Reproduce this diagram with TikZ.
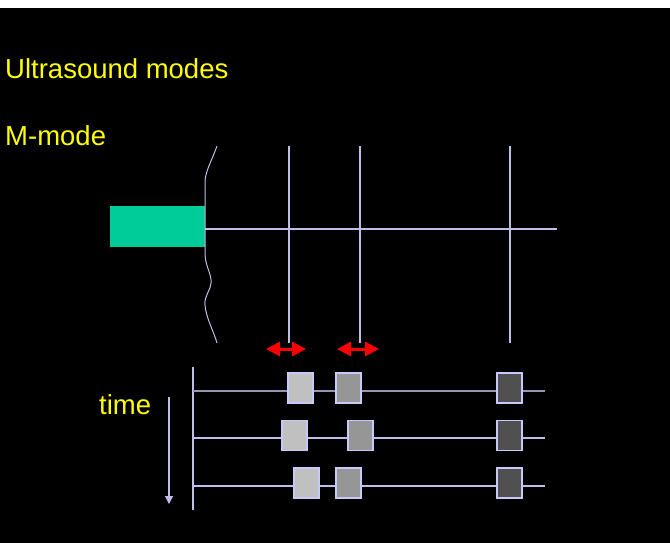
\documentclass[tikz,border=0pt]{standalone}
\usepackage{fontspec}
\setmainfont{Liberation Sans}
\usetikzlibrary{arrows.meta}
\definecolor{txtyellow}{RGB}{255,255,0}
\definecolor{probe}{RGB}{0,204,153}
\definecolor{beam}{RGB}{190,190,232}
\definecolor{edgeline}{RGB}{200,200,250}
\definecolor{echoA}{RGB}{192,192,192}
\definecolor{echoB}{RGB}{150,150,150}
\definecolor{echoC}{RGB}{80,80,80}
\definecolor{arrowred}{RGB}{255,0,0}
\begin{document}
\begin{tikzpicture}[x=1pt,y=-1pt,
  slidetext/.style={text=txtyellow,font=\fontsize{27.5}{33}\selectfont,inner sep=0pt},
  beamline/.style={draw=beam,line width=1.1pt},
  echo/.style={draw=edgeline,line width=1.1pt,minimum width=25pt,minimum height=30pt,inner sep=0pt},
  motionarrow/.style={draw=arrowred,line width=3pt,{Triangle[length=14pt,width=14pt]}-{Triangle[length=14pt,width=14pt]}}
]
% page: thin white strip over a black slide
\useasboundingbox (0,0) rectangle (670,543);
\fill[white] (0,0) rectangle (670,8);
\fill[black] (0,8) rectangle (670,543);

% headings
\node[slidetext,anchor=base west] (title) at (5,78) {Ultrasound modes};
\node[slidetext,anchor=base west] (mmode) at (5,145) {M-mode};

% transducer and skin surface
\node[fill=probe,draw=none,minimum width=95pt,minimum height=41pt,inner sep=0pt,anchor=north west] (probe) at (110,206) {};
\draw[beamline,line width=1pt] (217,146) .. controls (212,160) and (205,172) .. (205,182)
  -- (205,255) .. controls (206,268) and (212,275) .. (211,283)
  .. controls (210,292) and (204,296) .. (205,305)
  .. controls (206,318) and (214,332) .. (217,343);

% beam axis and reflecting interfaces
\coordinate (beamend) at (557,229);
\draw[beamline] (probe.east |- beamend) -- (beamend);
\coordinate (ia) at (289,146); \coordinate (ib) at (289,343);
\coordinate (ja) at (360,146); \coordinate (jb) at (360,343);
\coordinate (ka) at (510,146); \coordinate (kb) at (510,343);
\draw[beamline] (ia) -- (ib);
\draw[beamline] (ja) -- (jb);
\draw[beamline] (ka) -- (kb);

% motion of the interfaces
\coordinate (m1a) at (266,349); \coordinate (m1b) at (306,349);
\coordinate (m2a) at (337,349); \coordinate (m2b) at (379,349);
\draw[motionarrow] (m1a) -- (m1b);
\draw[motionarrow] (m2a) -- (m2b);

% M-mode trace: depth axis and successive scan lines
\coordinate (axtop) at (193,367); \coordinate (axbot) at (193,510);
\draw[beamline] (axtop) -- (axbot);
\coordinate (r1a) at (193,391); \coordinate (r1b) at (545,391);
\coordinate (r2a) at (193,438); \coordinate (r2b) at (545,438);
\coordinate (r3a) at (193,486); \coordinate (r3b) at (545,486);
\draw[beamline,draw={rgb,255:red,150;green,150;blue,180}] (r1a) -- (r1b);
\draw[beamline] (r2a) -- (r2b);
\draw[beamline] (r3a) -- (r3b);

% time direction
\coordinate (tA) at (169,397); \coordinate (tB) at (169,504);
\draw[beamline,-{Triangle[length=8pt,width=8pt]}] (tA) -- (tB);
\node[slidetext,anchor=base west] (time) at (99,414) {time};

% echoes on each scan line
\node[echo,fill=echoA] (e11) at (300.5,388) {};
\node[echo,fill=echoB] (e12) at (348.5,388) {};
\node[echo,fill=echoC] (e13) at (509.5,388) {};
\node[echo,fill=echoA] (e21) at (294.5,435.5) {};
\node[echo,fill=echoB] (e22) at (360.5,435.5) {};
\node[echo,fill=echoC] (e23) at (509.5,435.5) {};
\node[echo,fill=echoA] (e31) at (306.5,483) {};
\node[echo,fill=echoB] (e32) at (348.5,483) {};
\node[echo,fill=echoC] (e33) at (509.5,483) {};
\end{tikzpicture}
\end{document}
